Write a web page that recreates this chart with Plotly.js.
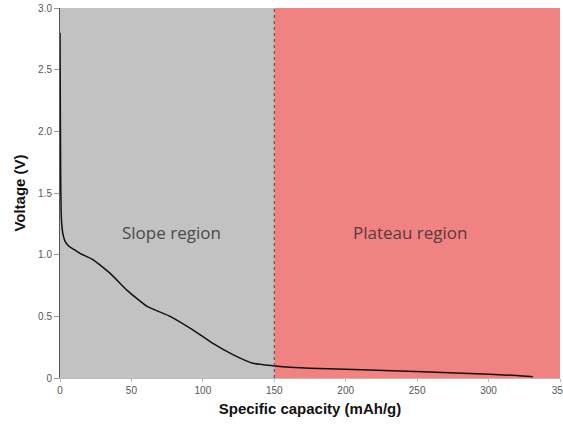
<!DOCTYPE html>
<html>
<head>
<meta charset="utf-8">
<script src="https://cdn.plot.ly/plotly-3.0.1.min.js"></script>
<style>html,body{margin:0;padding:0;background:#fff;}#chart{width:563px;height:430px;}</style>
</head>
<body>
<div id="chart"></div>
<script>
// Discharge curve
var capacity = [0, 0.15, 0.3, 0.5, 0.8, 1.2, 2, 3.5, 6, 10, 14, 23, 35, 47, 61, 77, 93, 107, 121, 135, 149, 161, 175, 200, 254, 301, 320, 331];
var voltage  = [2.8, 2.4, 2.0, 1.6, 1.35, 1.25, 1.17, 1.11, 1.07, 1.04, 1.01, 0.96, 0.85, 0.71, 0.58, 0.50, 0.39, 0.28, 0.19, 0.12, 0.10, 0.087, 0.08, 0.07, 0.05, 0.03, 0.02, 0.01];

var xTicks = [0, 50, 100, 150, 200, 250, 300, 350];
var xTickLabels = ['0', '50', '100', '150', '200', '250', '300', '350'];
var yTicks = [0, 0.5, 1.0, 1.5, 2.0, 2.5, 3.0];
var yTickLabels = ['0', '0.5', '1.0', '1.5', '2.0', '2.5', '3.0'];

var slopeRange = [0, 150];
var plateauRange = [150, 350];
var regionLabels = ['Slope region', 'Plateau region'];
var labelY = 1.18;

var trace = {
  x: capacity, y: voltage, mode: 'lines', type: 'scatter',
  line: {color: '#111', width: 1.5, shape: 'spline', smoothing: 0.4},
  hoverinfo: 'skip'
};

var layout = {
  width: 563, height: 430,
  margin: {l: 60, r: 3, t: 8, b: 52},
  paper_bgcolor: '#fff', plot_bgcolor: '#fff',
  showlegend: false,
  font: {family: 'Liberation Sans, Arial, sans-serif', color: '#555', size: 10},
  xaxis: {
    range: [0, 350], tickvals: xTicks, ticktext: xTickLabels,
    showgrid: false, zeroline: false,
    showline: true, linecolor: '#bbb', linewidth: 1,
    ticks: 'outside', ticklen: 3, tickcolor: '#bbb',
    ticklabeloverflow: 'allow',
    tickfont: {size: 10, color: '#555'},
    title: {text: 'Specific capacity (mAh/g)', font: {size: 15, color: '#111', family: 'Liberation Sans, Arial, sans-serif', weight: 'bold'}, standoff: 8}
  },
  yaxis: {
    range: [0, 3], tickvals: yTicks, ticktext: yTickLabels,
    showgrid: false, zeroline: false,
    showline: true, linecolor: '#555', linewidth: 1,
    ticks: 'outside', ticklen: 5, tickcolor: '#999',
    tickfont: {size: 10, color: '#555'},
    title: {text: 'Voltage (V)', font: {size: 15, color: '#111', family: 'Liberation Sans, Arial, sans-serif', weight: 'bold'}, standoff: 8}
  },
  shapes: [
    {type: 'rect', xref: 'x', yref: 'y', x0: slopeRange[0], x1: slopeRange[1], y0: 0, y1: 3, fillcolor: '#c2c2c2', line: {width: 0}, layer: 'below'},
    {type: 'rect', xref: 'x', yref: 'y', x0: plateauRange[0], x1: plateauRange[1], y0: 0, y1: 3, fillcolor: '#f08282', line: {width: 0}, layer: 'below'},
    {type: 'line', xref: 'x', yref: 'y', x0: slopeRange[1], x1: slopeRange[1], y0: 0, y1: 3, line: {color: '#444', width: 1, dash: 'dot'}}
  ],
  annotations: [
    {xref: 'x', yref: 'y', x: (slopeRange[0] + slopeRange[1]) / 2 + 3, y: labelY, text: regionLabels[0], showarrow: false,
     font: {family: 'Open Sans, sans-serif', size: 17, color: '#4a4a4a'}},
    {xref: 'x', yref: 'y', x: (plateauRange[0] + plateauRange[1]) / 2 - 5, y: labelY, text: regionLabels[1], showarrow: false,
     font: {family: 'Open Sans, sans-serif', size: 17, color: '#5a3a3a'}}
  ]
};

Plotly.newPlot('chart', [trace], layout, {displayModeBar: false, staticPlot: true});
</script>
</body>
</html>
